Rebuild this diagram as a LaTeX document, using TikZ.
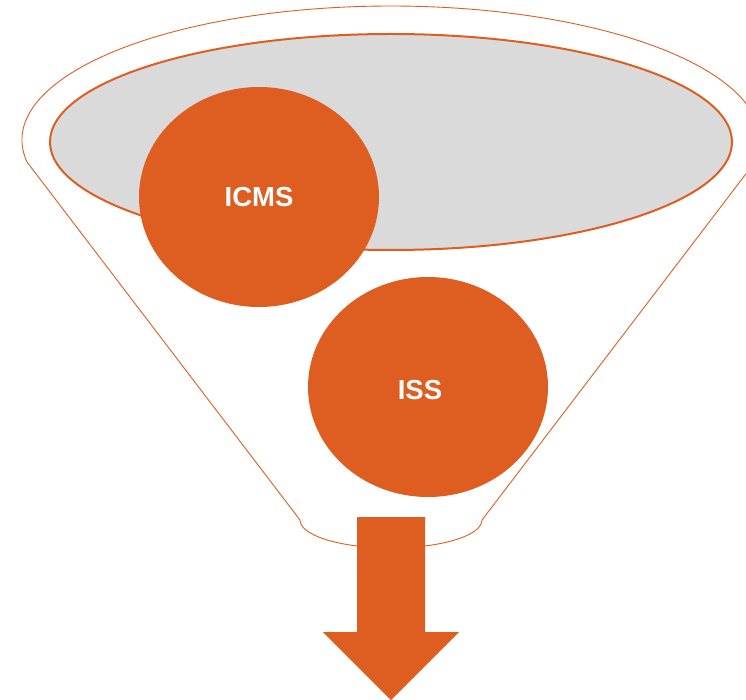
\documentclass[tikz,border=0pt]{standalone}
\usepackage{fontspec}
\setmainfont{Liberation Sans}
\usetikzlibrary{shapes.geometric}
\definecolor{funnelorange}{HTML}{DE5D20}
\definecolor{rimgray}{HTML}{DADADA}
\begin{document}
\begin{tikzpicture}[x=1pt,y=-1pt,
		bubble/.style={ellipse, fill=funnelorange, text=white, inner sep=0pt,
			minimum width=240pt, minimum height=220pt,
			font=\bfseries\fontsize{27.5}{32}\selectfont}]
		\useasboundingbox (0,0) rectangle (746,700);
		\clip (0,0) rectangle (746,700);
		% funnel outline
		\draw[funnelorange, line width=0.9pt] (27,162) arc[start angle=170.55, end angle=369.45, x radius=369, y radius=134] -- (482,520) arc[start angle=0, end angle=180, x radius=91, y radius=28] -- cycle;
		% rim
		\draw[funnelorange, line width=2pt, fill=rimgray] (391,142) ellipse[x radius=341, y radius=108];
		\node[bubble] (icms) at (259,197) {ICMS};
		\node[bubble] (iss) at (428,387) {\raisebox{-3pt}[\height][\depth]{ISS}\hspace*{16pt}};
		% outlet arrow
		\fill[funnelorange] (357,517) -- (425,517) -- (425,632) -- (459,632) -- (391,700) -- (323,632) -- (357,632) -- cycle;
	\end{tikzpicture}
\end{document}
